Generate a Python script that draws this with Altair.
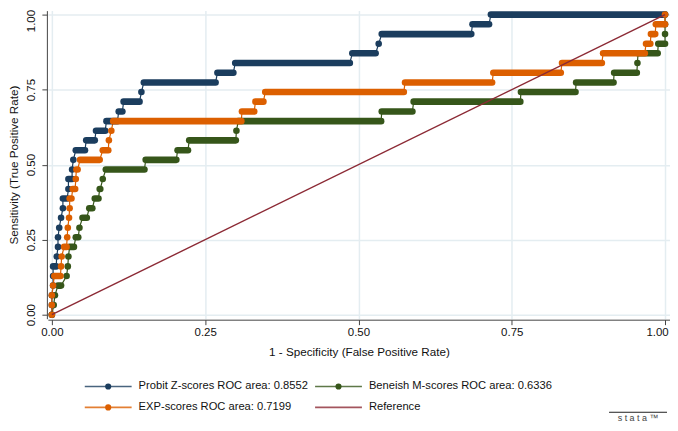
import altair as alt
import pandas as pd

# ---------------- data ----------------
tpr_levels = [0.000, 0.032, 0.065, 0.097, 0.129, 0.161, 0.194, 0.226, 0.258, 0.290,
              0.323, 0.355, 0.387, 0.419, 0.452, 0.484, 0.516, 0.548, 0.581, 0.613,
              0.645, 0.677, 0.710, 0.742, 0.774, 0.806, 0.839, 0.871, 0.903, 0.935,
              0.968, 1.000]

probit_fpr_start = [0.000, 0.000, 0.000, 0.002, 0.002, 0.002, 0.008, 0.010, 0.010, 0.012,
                    0.015, 0.018, 0.018, 0.027, 0.027, 0.033, 0.035, 0.039, 0.056, 0.072,
                    0.089, 0.109, 0.117, 0.146, 0.150, 0.270, 0.299, 0.490, 0.533, 0.538,
                    0.686, 0.716]
probit_fpr_end = [0.000, 0.000, 0.000, 0.002, 0.002, 0.007, 0.008, 0.010, 0.010, 0.012,
                  0.015, 0.018, 0.025, 0.027, 0.033, 0.033, 0.035, 0.054, 0.070, 0.087,
                  0.107, 0.115, 0.143, 0.146, 0.267, 0.296, 0.486, 0.528, 0.533, 0.684,
                  0.713, 1.000]

exp_fpr_start = [0.000, 0.000, 0.000, 0.002, 0.004, 0.015, 0.016, 0.020, 0.025, 0.026,
                 0.028, 0.029, 0.029, 0.034, 0.039, 0.040, 0.046, 0.083, 0.093, 0.097,
                 0.100, 0.310, 0.332, 0.348, 0.576, 0.720, 0.832, 0.899, 0.969, 0.977,
                 0.985, 1.000]
exp_fpr_end = [0.000, 0.000, 0.000, 0.002, 0.014, 0.015, 0.016, 0.024, 0.025, 0.026,
               0.028, 0.029, 0.032, 0.038, 0.039, 0.042, 0.078, 0.092, 0.093, 0.097,
               0.309, 0.330, 0.345, 0.574, 0.718, 0.830, 0.897, 0.967, 0.976, 0.984,
               1.000, 1.000]

beneish_fpr_start = [0.000, 0.003, 0.005, 0.010, 0.024, 0.026, 0.027, 0.029, 0.039, 0.045,
                     0.050, 0.061, 0.070, 0.078, 0.083, 0.088, 0.153, 0.205, 0.224, 0.301,
                     0.304, 0.538, 0.590, 0.765, 0.855, 0.917, 0.955, 0.956, 0.989, 1.000,
                     1.000, 1.000]
beneish_fpr_end = [0.000, 0.003, 0.005, 0.015, 0.024, 0.026, 0.027, 0.036, 0.043, 0.045,
                   0.057, 0.066, 0.076, 0.079, 0.083, 0.151, 0.203, 0.222, 0.300, 0.301,
                   0.537, 0.588, 0.764, 0.854, 0.916, 0.954, 0.955, 0.988, 1.000, 1.000,
                   1.000, 1.000]

reference_fpr = [0.0, 1.0]
reference_tpr = [0.0, 1.0]

series_names = ["Probit Z-scores ROC area: 0.8552",
                "Beneish M-scores ROC area: 0.6336",
                "EXP-scores ROC area: 0.7199",
                "Reference"]
series_colors = ["#1b3d5e", "#36561a", "#dc5f00", "#8c2a35"]

x_ticks = [0, 0.25, 0.5, 0.75, 1.0]
y_ticks = [0, 0.25, 0.5, 0.75, 1.0]

# ---------------- tables ----------------
curves = [
    (series_names[1], beneish_fpr_start, beneish_fpr_end),   # drawn first (bottom)
    (series_names[0], probit_fpr_start, probit_fpr_end),
    (series_names[2], exp_fpr_start, exp_fpr_end),
]
flat_rows, path_rows = [], []
for name, starts, ends in curves:
    for i, (t, a, b) in enumerate(zip(tpr_levels, starts, ends)):
        flat_rows.append({"series": name, "tpr": t, "x0": a, "x1": b})
        path_rows.append({"series": name, "tpr": t, "fpr": a, "ord": 2 * i})
        path_rows.append({"series": name, "tpr": t, "fpr": b, "ord": 2 * i + 1})
flat_df = pd.DataFrame(flat_rows)
path_df = pd.DataFrame(path_rows)
ref_df = pd.DataFrame({"series": series_names[3], "fpr": reference_fpr, "tpr": reference_tpr})

legend_df = pd.DataFrame({
    "series": series_names,
    "idx": list(range(len(series_names))),
})

FONT = "Liberation Sans"
color_scale = alt.Scale(domain=series_names, range=series_colors)
col = alt.Color("series:N", scale=color_scale, legend=None)

x_scale = alt.Scale(domain=[-0.0065, 1.0081], nice=False, zero=False)
y_scale = alt.Scale(domain=[-0.0133, 1.0133], nice=False, zero=False)

x_axis = alt.Axis(values=x_ticks, format=".2f", title="1 - Specificity (False Positive Rate)",
                  grid=True, offset=1, tickSize=5, labelPadding=2, titlePadding=8,
                  labelOffset={"condition": {"test": "datum.value == 1", "value": -8}, "value": 0})
y_axis = alt.Axis(values=y_ticks, format=".2f", title="Sensitivity (True Positive Rate)",
                  grid=True, offset=1, tickSize=5, labelAngle=270, labelAlign="center",
                  labelBaseline="bottom", labelPadding=5, titlePadding=6,
                  labelOffset={"condition": {"test": "datum.value == 1", "value": 6}, "value": 0})

base_x = alt.X("fpr:Q", scale=x_scale, axis=x_axis)
base_y = alt.Y("tpr:Q", scale=y_scale, axis=y_axis)

lines = alt.Chart(path_df).mark_line(strokeWidth=1.2).encode(
    x=base_x, y=base_y, color=col, order="ord:Q", detail="series:N")

flats = alt.Chart(flat_df).mark_rule(strokeWidth=6.6, strokeCap="round").encode(
    x=alt.X("x0:Q", scale=x_scale, axis=x_axis), x2="x1:Q",
    y=alt.Y("tpr:Q", scale=y_scale, axis=y_axis), color=col)

ref = alt.Chart(ref_df).mark_line(strokeWidth=1.4).encode(x=base_x, y=base_y, color=col)

# ---------------- legend (two columns, Stata style) ----------------
leg = alt.Chart(legend_df).transform_calculate(
    c="datum.idx % 2", r="floor(datum.idx / 2)"
).transform_calculate(
    lx0="37 + datum.c * 231", lx1="84 + datum.c * 231", lxm="60.5 + datum.c * 231",
    tx="91 + datum.c * 231", ly="377 + datum.r * 21",
    dot="datum.series != 'Reference'"
)
leg_lines = leg.mark_rule(strokeWidth=1.6, opacity=0.8).encode(
    x=alt.X("lx0:Q", scale=None), x2="lx1:Q", y=alt.Y("ly:Q", scale=None), color=col)
leg_dots = leg.transform_filter("datum.dot").mark_point(filled=True, size=38, opacity=1).encode(
    x=alt.X("lxm:Q", scale=None), y=alt.Y("ly:Q", scale=None), color=col)
leg_text = leg.mark_text(align="left", baseline="middle", fontSize=11.2, font=FONT, color="#111").encode(
    x=alt.X("tx:Q", scale=None), y=alt.Y("ly:Q", scale=None), text="series:N")

logo_rule = alt.Chart(legend_df).mark_rule(color="#555", strokeWidth=0.8).encode(
    x=alt.value(563), x2=alt.value(621), y=alt.value(403))
logo_text = alt.Chart(pd.DataFrame({"t": ["s t a t a ™"]})).mark_text(
    fontSize=9, font=FONT, color="#444", align="center", baseline="middle").encode(
    x=alt.value(592), y=alt.value(408.5), text="t:N")

chart = alt.layer(lines, flats, ref, leg_lines, leg_dots, leg_text, logo_rule, logo_text).properties(
    width=624, height=309,
    autosize=alt.AutoSizeParams(type="none"),
    padding={"left": 40, "top": 2, "right": 0, "bottom": 104},
    background="white",
).configure_view(stroke=None).configure_axis(
    labelFont=FONT, titleFont=FONT, labelFontSize=11.5, titleFontSize=11.7,
    titleFontWeight="normal", labelColor="#111", titleColor="#111",
    domainColor="#444", tickColor="#444", domainWidth=1, tickWidth=1,
    gridColor="#e4edf1", gridWidth=1.5,
)

chart.save("out.html", embed_options={"renderer": "svg", "actions": False})
